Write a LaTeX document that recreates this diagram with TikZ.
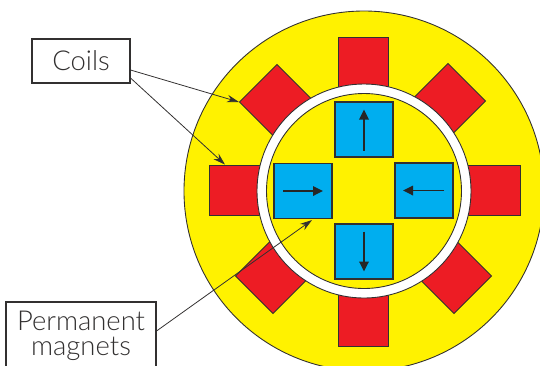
\documentclass[tikz,border=0pt]{standalone}
\usepackage{fontspec}
\setmainfont{Lato Light}
\usetikzlibrary{arrows.meta,positioning}
\definecolor{motorYellow}{RGB}{255,242,0}
\definecolor{motorRed}{RGB}{237,28,36}
\definecolor{motorBlue}{RGB}{0,174,239}
\definecolor{motorInk}{RGB}{50,48,48}
\begin{document}
\begin{tikzpicture}[
    x=0.2mm, y=-0.2mm,
    disc/.style={circle, draw=motorInk, inner sep=0pt, line width=0.5pt},
    coil/.style={rectangle, draw=motorInk, fill=motorRed, inner sep=0pt,
                 minimum width=10mm, minimum height=14mm, line width=0.5pt},
    coild/.style={coil, minimum width=10.6mm},
    magnet/.style={rectangle, draw=motorInk, fill=motorBlue, inner sep=0pt,
                   minimum width=11.6mm, minimum height=11mm, line width=0.6pt},
    label/.style={rectangle, draw=motorInk, fill=white, inner sep=0pt, align=center,
                  font=\fontsize{15.6}{14.6}\selectfont, text=motorInk, line width=0.6pt},
    lead/.style={-{Stealth[length=2.4mm, width=1.5mm]}, motorInk, line width=0.45pt},
    flux/.style={-{Stealth[length=2mm, width=1.9mm, inset=0pt]}, black!85, line width=1pt}
  ]
  \clip (0,0) rectangle (540,365);

  \node[disc, fill=motorYellow, minimum size=72mm] (stator) at (364,191) {};

  \node[coil]                        (coilN)  at (363,72)  {};
  \node[coil, rotate=90]             (coilE)  at (485,190) {};
  \node[coil, rotate=90]             (coilW)  at (244,190) {};
  \node[coil]                        (coilS)  at (363,311) {};
  \node[coild, rotate=45]            (coilNW) at (283,108) {};
  \node[coild, rotate=-45]           (coilNE) at (442,107) {};
  \node[coild, rotate=45]            (coilSE) at (448,270) {};
  \node[coild, rotate=-45]           (coilSW) at (279,270) {};

  \node[disc, fill=white, minimum size=42.8mm]       (gap)   at (364,191) {};
  \node[disc, fill=motorYellow, minimum size=39mm]   (rotor) at (364,191) {};

  \node[magnet] (magN) at (364,129.5) {};
  \node[magnet] (magE) at (424,190.5) {};
  \node[magnet] (magS) at (364,251.5) {};
  \node[magnet] (magW) at (303,191)   {};

  \draw[flux] ([yshift=-4.2mm]magN.center) -- ([yshift=4mm]magN.center);
  \draw[flux] ([xshift=4mm]magE.center)    -- ([xshift=-4.2mm]magE.center);
  \draw[flux] ([yshift=4mm]magS.center)    -- ([yshift=-4mm]magS.center);
  \draw[flux] ([xshift=-4mm]magW.center)   -- ([xshift=4mm]magW.center);

  \node[label, minimum width=19.6mm, minimum height=8.8mm] (coils) at (81,61) {Coils};
  \node[label, minimum width=30mm, minimum height=13.6mm]  (perm)  at (81,336) {Permanent\\magnets};

  \draw[lead] ([yshift=-1.8mm]coils.east) -- (coilNW.north west);
  \draw[lead] ([yshift=-3.4mm]coils.east) -- ([xshift=-3.8mm]coilW.east);
  \draw[lead] ([yshift=1mm]perm.east) -- ([xshift=1.8mm,yshift=-0.2mm]magW.south);
\end{tikzpicture}
\end{document}
